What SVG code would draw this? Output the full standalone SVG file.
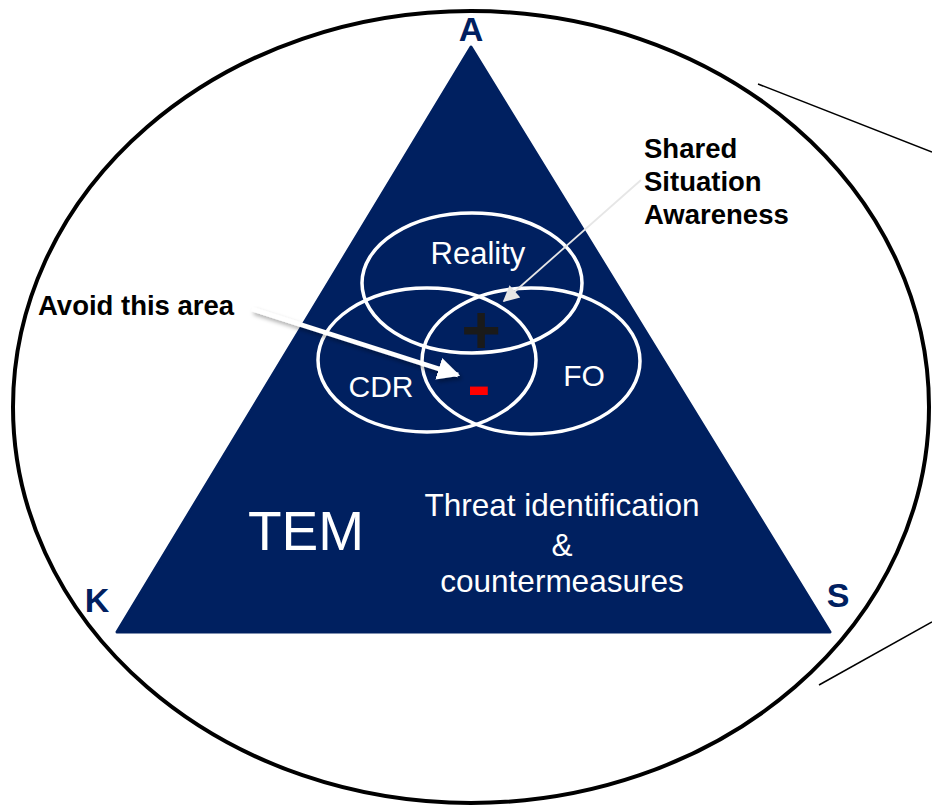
<svg xmlns="http://www.w3.org/2000/svg" width="932" height="809" viewBox="0 0 932 809">
<style>
.lbl{font-family:"Liberation Sans",Arial,sans-serif;font-weight:bold;fill:#002060;font-size:34px;text-anchor:middle}
.wt{font-family:"Liberation Sans",Arial,sans-serif;fill:#fff;text-anchor:middle}
.bk{font-family:"Liberation Sans",Arial,sans-serif;font-weight:bold;fill:#000;font-size:27.5px}
.ring{fill:none;stroke:#fff;stroke-width:3.5}
</style>
<defs>
<marker id="ahW" viewBox="0 0 10 10" refX="9" refY="5" markerWidth="5" markerHeight="5" orient="auto" markerUnits="strokeWidth"><path d="M0,0 L10,5 L0,10 Z" fill="#fff"/></marker>
<marker id="ahG" viewBox="0 0 10 10" refX="9" refY="5" markerWidth="11" markerHeight="9" orient="auto" markerUnits="strokeWidth"><path d="M0,0 L10,5 L0,10 Z" fill="#e6e6e6"/></marker>
<filter id="sh" x="-20%" y="-20%" width="140%" height="140%"><feDropShadow dx="2" dy="3" stdDeviation="2" flood-color="#000" flood-opacity="0.35"/></filter>
</defs>
<rect width="932" height="809" fill="#fff"/>
<g id="frame">
<ellipse cx="471" cy="407" rx="458" ry="396" fill="none" stroke="#000" stroke-width="4"/>
</g>
<g id="triangle">
<path d="M471,47 L830,632 L117,632 Z" fill="#002060" stroke="#002060" stroke-width="3" stroke-linejoin="round"/>
</g>
<g id="reality"><ellipse class="ring" cx="472" cy="283" rx="110" ry="70"/><text class="wt" x="478" y="264" font-size="31">Reality</text></g>
<g id="cdr"><ellipse class="ring" cx="427" cy="360" rx="109" ry="72"/><text class="wt" x="381" y="397" font-size="30">CDR</text></g>
<g id="fo"><ellipse class="ring" cx="531" cy="361" rx="109" ry="73"/><text class="wt" x="584" y="386" font-size="30">FO</text></g>
<g id="tem"><text class="wt" x="306" y="550" font-size="55">TEM</text></g>
<g id="threat"><text class="wt" font-size="31.5"><tspan x="562" y="516">Threat identification</tspan><tspan x="562" y="556">&amp;</tspan><tspan x="562" y="592">countermeasures</tspan></text></g>
<g id="signs"><text font-family="Liberation Sans,Arial,sans-serif" font-weight="bold" text-anchor="middle"><tspan x="481" y="353" font-size="68" fill="#1a1a1a">+</tspan><tspan x="479" y="409" font-size="70" fill="#ff0000">-</tspan></text></g>
<g id="vertices">
<text class="lbl" x="471" y="41">A</text>
<text class="lbl" x="97" y="612">K</text>
<text class="lbl" x="838" y="607">S</text>
</g>
<g id="shared"><text class="bk"><tspan x="644" y="158">Shared</tspan><tspan x="644" y="191">Situation</tspan><tspan x="644" y="224">Awareness</tspan></text></g>
<g id="avoid"><text class="bk" x="38" y="315">Avoid this area</text></g>
<g id="connectors">
<line x1="252" y1="309" x2="458" y2="375" stroke="#fff" stroke-width="4.5" marker-end="url(#ahW)" filter="url(#sh)"/>
<line x1="641" y1="180" x2="504" y2="301" stroke="#e6e6e6" stroke-width="1.8" marker-end="url(#ahG)"/>
<line x1="758" y1="84" x2="932" y2="152" stroke="#000" stroke-width="1.5"/>
<line x1="819" y1="685" x2="932" y2="622" stroke="#000" stroke-width="1.5"/>
</g>
</svg>
